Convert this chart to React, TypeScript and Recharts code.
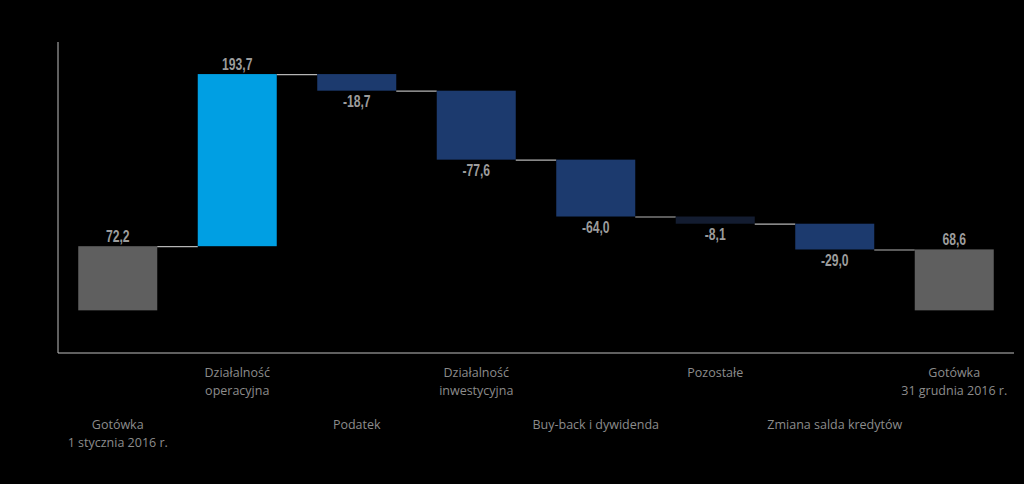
import React from 'react'
import { ComposedChart, Bar, XAxis, YAxis, Cell, LabelList } from 'recharts'

const categories = [
  ['Gotówka', '1 stycznia 2016 r.'],
  ['Działalność', 'operacyjna'],
  ['Podatek'],
  ['Działalność', 'inwestycyjna'],
  ['Buy-back i dywidenda'],
  ['Pozostałe'],
  ['Zmiana salda kredytów'],
  ['Gotówka', '31 grudnia 2016 r.'],
]
const changes = [72.2, 193.7, -18.7, -77.6, -64.0, -8.1, -29.0, 68.6]
const isTotal = [true, false, false, false, false, false, false, true]
const colors = ['#5f5f5f', '#009fe3', '#1c3a6e', '#1c3a6e', '#1c3a6e', '#131c30', '#1c3a6e', '#5f5f5f']

const W = 1024
const H = 484
const LEFT = 58
const RIGHT = 10
const BAR = 79
const BAND = (W - LEFT - RIGHT) / categories.length
const GAP = BAND - BAR

let running = 0
const data = categories.map((c, i) => {
  const v = changes[i]
  let base: number
  let end: number
  if (isTotal[i]) {
    base = 0
    end = v
  } else {
    base = v >= 0 ? running : running + v
    end = running + v
  }
  running = end
  return { name: c.join('\n'), idx: i, base, size: Math.abs(v), change: v, end }
})

const fmt = (v: number) => v.toFixed(1).replace('.', ',')

function BarShape(props: any) {
  const { x, y, width, height, payload } = props
  const i = payload.idx
  const next = data[i + 1]
  // connector from this bar's right edge to the next bar, at the running total
  const lvlY = payload.change >= 0 ? y : y + height
  return (
    <g>
      <rect x={x} y={y} width={width} height={height} fill={colors[i]} />
      {next && (
        <line x1={x + width} x2={x + width + GAP} y1={lvlY + 0.5} y2={lvlY + 0.5} stroke="#b5b5b5" strokeWidth={1.2} />
      )}
    </g>
  )
}

function ValueLabel(props: any) {
  const { x, y, width, height, index } = props
  const v = changes[index]
  const up = v >= 0
  const ty = up ? y - 10 : y + height + 11
  return (
    <text
      transform={`translate(${x + width / 2},${ty}) scale(0.76,1)`}
      x={0}
      y={0}
      textAnchor="middle"
      dominantBaseline="central"
      fill="#9c9c9c"
      fontFamily="'Liberation Sans', Arial, sans-serif"
      fontWeight="bold"
      fontSize={16}
    >
      {fmt(v)}
    </text>
  )
}

function Tick(props: any) {
  const { x, index } = props
  const lines = categories[index] || []
  const top = index % 2 === 1 ? 372 : 424
  return (
    <text
      x={x}
      textAnchor="middle"
      fill="#8c8c8c"
      fontFamily="'Open Sans', 'Noto Sans', sans-serif"
      fontSize={12.5}
    >
      {lines.map((l, k) => (
        <tspan key={k} x={x} y={top + k * 18} dominantBaseline="central">
          {l}
        </tspan>
      ))}
    </text>
  )
}

export default function App() {
  return (
    <div style={{ position: 'absolute', left: 0, top: 0, width: W, height: H, background: '#000' }}>
      <ComposedChart
        width={W}
        height={H}
        data={data}
        margin={{ top: 42, right: RIGHT, bottom: 0, left: 0 }}
        barCategoryGap={(BAND - BAR) / 2}
      >
        <XAxis
          dataKey="name"
          interval={0}
          height={131}
          tickLine={false}
          axisLine={{ stroke: '#bfbfbf', strokeWidth: 1 }}
          tick={<Tick />}
        />
        <YAxis
          domain={[-48, 302]}
          width={LEFT}
          tick={false}
          tickLine={false}
          axisLine={{ stroke: '#bfbfbf', strokeWidth: 1 }}
          allowDataOverflow
        />
        <Bar dataKey="base" stackId="w" fill="transparent" isAnimationActive={false} />
        <Bar dataKey="size" stackId="w" barSize={BAR} shape={<BarShape />} isAnimationActive={false}>
          {data.map((d, i) => (
            <Cell key={i} fill={colors[i]} />
          ))}
          <LabelList dataKey="size" content={<ValueLabel />} />
        </Bar>
      </ComposedChart>
    </div>
  )
}
